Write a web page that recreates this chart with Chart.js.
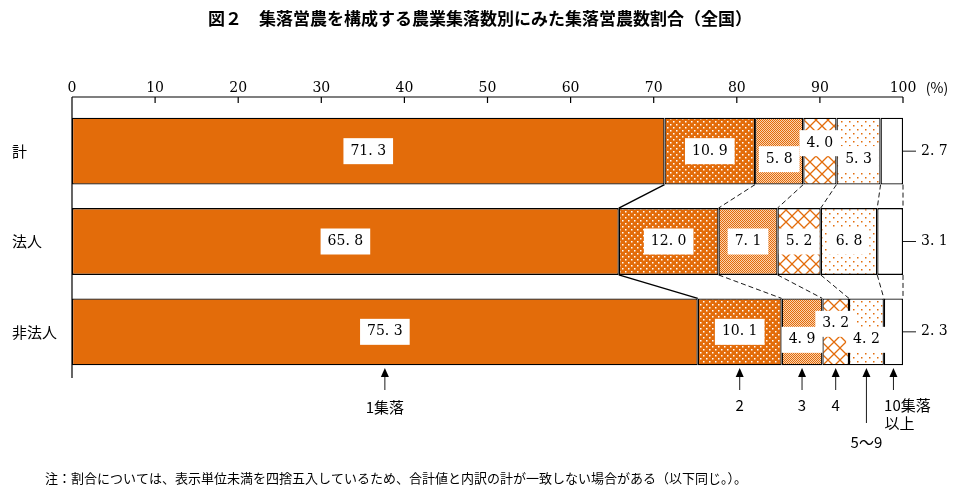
<!DOCTYPE html>
<html><head><meta charset="utf-8">
<script src="https://cdn.jsdelivr.net/npm/chart.js@4"></script>
<style>body{margin:0;background:#fff}#wrap{width:960px;height:499px}</style>
</head><body><div id="wrap"><canvas id="c" width="960" height="499"></canvas></div>
<script>
const categories = ['計', '法人', '非法人'];
const groups = ['1集落', '2', '3', '4', '5～9', '10集落以上'];
const seg1 = [71.3, 65.8, 75.3];
const seg2 = [10.9, 12.0, 10.1];
const seg3 = [5.8, 7.1, 4.9];
const seg4 = [4.0, 5.2, 3.2];
const seg5 = [5.3, 6.8, 4.2];
const seg6 = [2.7, 3.1, 2.3];
const xTicks = [0, 10, 20, 30, 40, 50, 60, 70, 80, 90, 100];
const series = [seg1, seg2, seg3, seg4, seg5, seg6];
const ORANGE = '#E36C0A';
// label vertical offsets (px) per segment per row
const labelShift = [[0,0,0],[0,0,0],[8,0,8],[-8,0,-8],[8,0,8]];

function pat(w, h, draw) {
  const c = document.createElement('canvas'); c.width = w; c.height = h;
  const g = c.getContext('2d'); draw(g); return g.createPattern(c, 'repeat');
}
const ctx = document.getElementById('c').getContext('2d');
const fills = [
  ORANGE,
  pat(6, 6, g => { g.fillStyle = ORANGE; g.fillRect(0,0,6,6); g.fillStyle='#fff'; g.fillRect(1,1,1.5,1.5); g.fillRect(4,4,1.5,1.5); }),
  pat(2, 2, g => { g.fillStyle = '#FAD2B0'; g.fillRect(0,0,2,2); g.fillStyle=ORANGE; g.fillRect(0,0,1,1); g.fillRect(1,1,1,1); }),
  pat(12, 12, g => { g.fillStyle='#fff'; g.fillRect(0,0,12,12); g.strokeStyle=ORANGE; g.lineWidth=1.3;
    g.beginPath(); g.moveTo(-1,-1); g.lineTo(13,13); g.moveTo(13,-1); g.lineTo(-1,13); g.stroke(); }),
  pat(8, 8, g => { g.fillStyle='#fff'; g.fillRect(0,0,8,8); g.fillStyle=ORANGE; g.fillRect(1,1,1.5,1.5); g.fillRect(5,5,1.5,1.5); }),
  '#fff'
];

const fmt = v => v.toFixed(1).replace('.', '. ');

const extras = {
  id: 'extras',
  afterDatasetsDraw(chart) {
    const c = chart.ctx, xs = chart.scales.x, ys = chart.scales.y;
    const top = 97, bottom = 378;
    c.save();
    c.strokeStyle = '#000'; c.lineWidth = 1.2;
    c.beginPath(); c.moveTo(xs.getPixelForValue(0), top); c.lineTo(xs.getPixelForValue(100), top);
    c.moveTo(xs.getPixelForValue(0), top); c.lineTo(xs.getPixelForValue(0), bottom);
    xTicks.forEach(t => { const x = xs.getPixelForValue(t); c.moveTo(x, top); c.lineTo(x, top + 6); });
    c.stroke();
    c.fillStyle = '#000'; c.font = '14px "DejaVu Serif"'; c.textAlign = 'center'; c.textBaseline = 'middle';
    xTicks.forEach(t => c.fillText(String(t), xs.getPixelForValue(t), 88));
    c.font = '14px "Noto Sans CJK JP"'; c.fillText('(%)', 937, 88);
    const meta0 = chart.getDatasetMeta(0);
    const half = meta0.data[0].height / 2;
    // connectors
    for (let r = 0; r < 2; r++) {
      const y1 = ys.getPixelForValue(r) + half, y2 = ys.getPixelForValue(r + 1) - half;
      let a = 0, b = 0;
      for (let s = 0; s < 6; s++) {
        a += series[s][r]; b += series[s][r + 1];
        c.setLineDash(s === 0 ? [] : [5, 3]); c.lineWidth = s === 0 ? 1.4 : 0.9;
        c.beginPath(); c.moveTo(xs.getPixelForValue(s === 5 ? 100 : a), y1); c.lineTo(xs.getPixelForValue(s === 5 ? 100 : b), y2); c.stroke();
      }
    }
    c.setLineDash([]);
    // value labels
    c.font = '14px "DejaVu Serif"';
    for (let r = 0; r < 3; r++) {
      let acc = 0;
      for (let s = 0; s < 5; s++) {
        const v = series[s][r];
        const x = xs.getPixelForValue(acc + v / 2), y = ys.getPixelForValue(r) + labelShift[s][r];
        const t = fmt(v), w = c.measureText(t).width + 14;
        c.fillStyle = '#fff'; c.fillRect(x - w / 2, y - 13, w, 26);
        c.fillStyle = '#000'; c.fillText(t, x, y);
        acc += v;
      }
      const yc = ys.getPixelForValue(r), xr = xs.getPixelForValue(100);
      c.beginPath(); c.moveTo(xr, yc); c.lineTo(xr + 13, yc); c.stroke();
      c.textAlign = 'left'; c.fillText(fmt(seg6[r]), xr + 18, yc); c.textAlign = 'center';
    }
    c.font = '15px "Noto Sans CJK JP"'; c.textAlign = 'left';
    categories.forEach((n, i) => c.fillText(n, 12, ys.getPixelForValue(i)));
    // arrows under last row
    c.textAlign = 'center';
    let acc = 0;
    const lens = [22, 22, 22, 22, 55, 22];
    const txtY = [407, 405, 405, 405, 442, 405];
    for (let s = 0; s < 6; s++) {
      const v = series[s][2];
      const x = xs.getPixelForValue(acc + v / 2); acc += v;
      const y0 = 368;
      c.beginPath(); c.moveTo(x, y0 + 4); c.lineTo(x, y0 + lens[s]); c.stroke();
      c.beginPath(); c.moveTo(x, y0); c.lineTo(x - 4, y0 + 9); c.lineTo(x + 4, y0 + 9); c.closePath(); c.fill();
      if (s === 5) {
        c.fillText('10集落', x + 14, 405); c.fillText('以上', x + 6, 423);
      } else {
        c.fillText(groups[s], x, txtY[s]);
      }
    }
    c.font = 'bold 17px "Noto Sans CJK JP"';
    c.fillText('図２　集落営農を構成する農業集落数別にみた集落営農数割合（全国）', 480, 19);
    c.font = '13px "Noto Sans CJK JP"'; c.textAlign = 'left';
    c.fillText('注：割合については、表示単位未満を四捨五入しているため、合計値と内訳の計が一致しない場合がある（以下同じ。）。', 45, 478);
    c.restore();
  }
};

new Chart(ctx, {
  type: 'bar',
  data: {
    labels: categories,
    datasets: series.map((d, i) => ({
      label: groups[i], data: d, backgroundColor: fills[i],
      borderColor: '#000', borderWidth: 1.3, borderSkipped: false,
      categoryPercentage: 1, barPercentage: 0.74
    }))
  },
  options: {
    indexAxis: 'y', responsive: false, animation: false,
    layout: { padding: { left: 72, right: 57, top: 106, bottom: 122 } },
    plugins: { legend: { display: false }, tooltip: { enabled: false } },
    scales: {
      x: { stacked: true, min: 0, max: 100, display: false },
      y: { stacked: true, display: false }
    }
  },
  plugins: [extras]
});
</script></body></html>
